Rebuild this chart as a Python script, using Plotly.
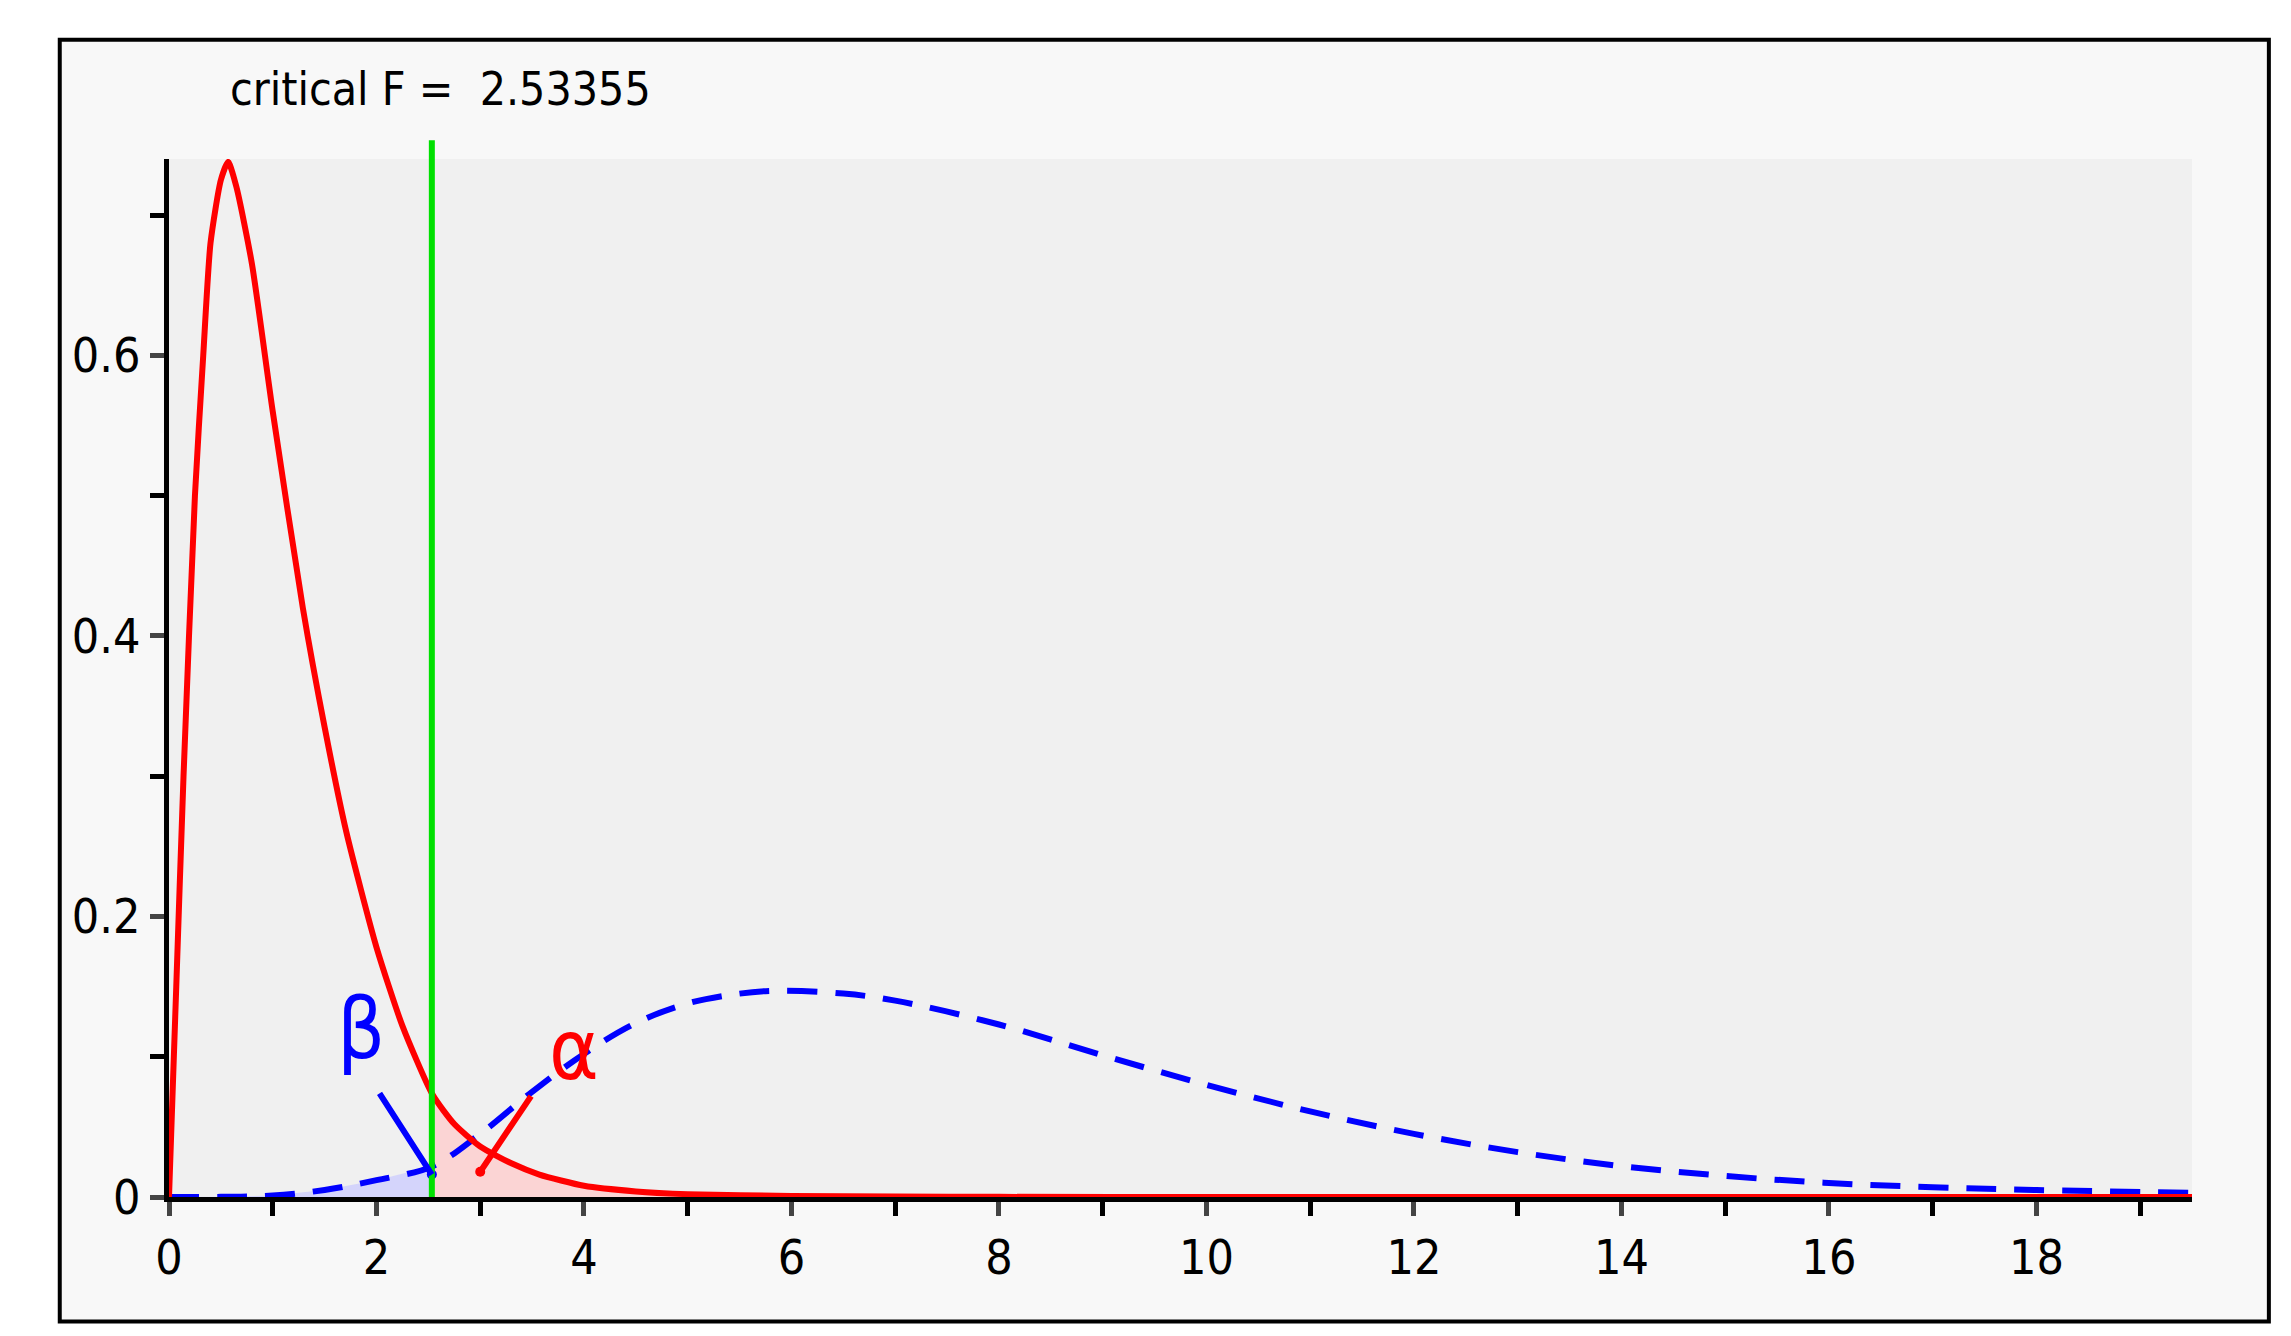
import plotly.graph_objects as go
import numpy as np

crit = 2.53355
red_x = [0, 0.07, 0.14, 0.25, 0.33, 0.4, 0.5, 0.57, 0.65, 0.8, 1.0, 1.29, 1.5, 1.71, 2.0, 2.25, 2.54, 2.75, 3.0, 3.3, 3.57, 4.0, 4.5, 5.0, 6.0, 7.0, 8.0, 10.0, 19.5]
red_y = [0, 0.15, 0.3, 0.5, 0.6, 0.68, 0.725, 0.738, 0.72, 0.665, 0.56, 0.42, 0.335, 0.26, 0.178, 0.122, 0.073, 0.052, 0.036, 0.024, 0.016, 0.008, 0.004, 0.002, 0.0007, 0.0003, 0.0001, 0, 0]
blue_x = [0, 0.5, 1.0, 1.5, 2.0, 2.54, 3.0, 3.5, 4.0, 4.5, 5.0, 5.5, 5.85, 6.5, 7.0, 8.0, 9.0, 10.0, 11.0, 12.0, 13.0, 14.0, 15.0, 16.0, 17.0, 18.0, 19.5]
blue_y = [0, 0.0001, 0.001, 0.005, 0.012, 0.022, 0.045, 0.075, 0.102, 0.124, 0.138, 0.145, 0.147, 0.145, 0.14, 0.123, 0.101, 0.08, 0.061, 0.045, 0.032, 0.022, 0.015, 0.010, 0.007, 0.005, 0.003]

def cut(xs, ys, lo, hi):
    px = [lo] + [x for x in xs if lo < x < hi] + [hi]
    return px, list(np.interp(px, xs, ys))

bfx, bfy = cut(blue_x, blue_y, 0, crit)
rfx, rfy = cut(red_x, red_y, crit, 19.5)

font = "DejaVu Sans Condensed, Liberation Sans Narrow, sans-serif"
fig = go.Figure()
fig.add_trace(go.Scatter(x=bfx, y=bfy, fill='tozeroy', mode='none', fillcolor='rgba(200,200,255,0.7)'))
fig.add_trace(go.Scatter(x=rfx, y=rfy, fill='tozeroy', mode='none', fillcolor='rgba(255,200,200,0.7)'))
fig.add_trace(go.Scatter(x=blue_x, y=blue_y, mode='lines', line=dict(color='blue', width=6, dash='30px,18px', shape='spline')))
fig.add_trace(go.Scatter(x=red_x, y=red_y, mode='lines', line=dict(color='red', width=6, shape='spline', smoothing=0.6)))
fig.add_trace(go.Scatter(x=[crit], y=[0.016], mode='markers', marker=dict(color='blue', size=10)))
fig.add_trace(go.Scatter(x=[3.0], y=[0.018], mode='markers', marker=dict(color='red', size=10)))

fig.add_shape(type='rect', xref='paper', yref='paper', x0=-0.054, x1=1.038, y0=-0.12, y1=1.115,
              line=dict(color='black', width=4), fillcolor='#f8f8f8', layer='below')
fig.add_shape(type='rect', x0=0, x1=19.5, y0=0, y1=0.74, line=dict(width=0), fillcolor='#f0f0f0', layer='below')
fig.add_shape(type='line', x0=crit, x1=crit, yref='paper', y0=0, y1=1.018, line=dict(color='#00e000', width=6))

fig.add_annotation(xref='paper', yref='paper', x=0.029, y=1.067, xanchor='left', yanchor='middle',
                   text='critical F =  2.53355', showarrow=False, font=dict(family=font, size=46, color='black'))
fig.add_annotation(x=crit, y=0.016, ax=2.02, ay=0.075, axref='x', ayref='y', text='', showarrow=True,
                   arrowhead=0, arrowwidth=6, arrowcolor='blue')
fig.add_annotation(x=3.0, y=0.018, ax=3.5, ay=0.073, axref='x', ayref='y', text='', showarrow=True,
                   arrowhead=0, arrowwidth=6, arrowcolor='red')
fig.add_annotation(x=1.85, y=0.12, text='β', showarrow=False, font=dict(family=font, size=84, color='blue'))
fig.add_annotation(x=3.9, y=0.105, text='α', showarrow=False, font=dict(family=font, size=84, color='red'))

fig.update_layout(width=2291, height=1336, showlegend=False, paper_bgcolor='white', plot_bgcolor='rgba(0,0,0,0)',
                  margin=dict(l=161, r=107, t=151, b=147), font=dict(family=font, size=48, color='black'))
fig.update_xaxes(range=[0, 19.5], tickvals=list(range(0, 20, 2)), showgrid=False, zeroline=False,
                 showline=True, linecolor='black', linewidth=5, ticks='outside', ticklen=14, tickwidth=5,
                 minor=dict(dtick=1, ticks='outside', ticklen=14, tickwidth=5, tickcolor='black'))
fig.update_yaxes(range=[0, 0.74], tickvals=[0, 0.2, 0.4, 0.6], ticktext=['0', '0.2', '0.4', '0.6'],
                 showgrid=False, zeroline=False, showline=True, linecolor='black', linewidth=5,
                 ticks='outside', ticklen=14, tickwidth=5,
                 minor=dict(dtick=0.1, ticks='outside', ticklen=14, tickwidth=5, tickcolor='black'))
fig.write_html("out.html")
